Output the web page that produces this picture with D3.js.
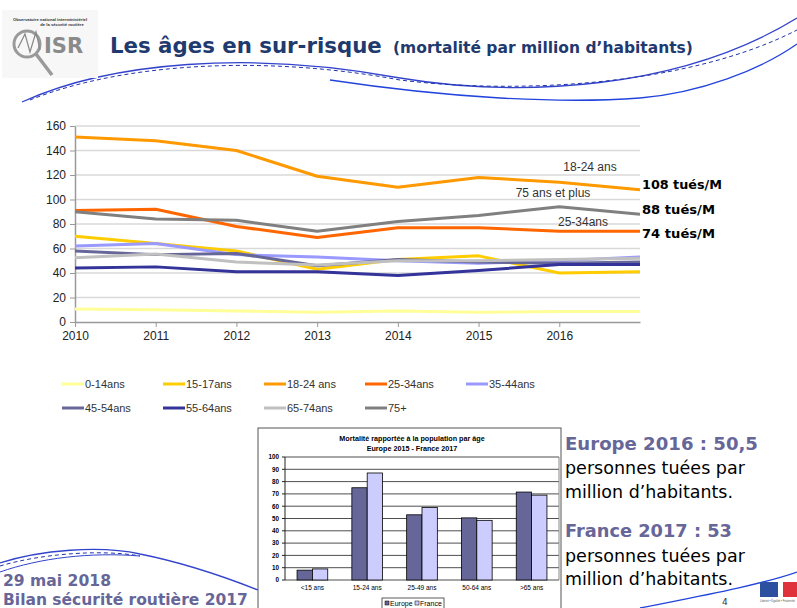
<!DOCTYPE html>
<html><head><meta charset="utf-8">
<script src="https://cdn.jsdelivr.net/npm/d3@7"></script>
<style>body{margin:0;background:#fff;overflow:hidden} svg{display:block}</style>
</head><body>
<svg id="c" width="797" height="608"></svg>
<script>
// ---------- DATA ----------
const years = [2010, 2011, 2012, 2013, 2014, 2015, 2016, 2017];
const tickYears = [2010, 2011, 2012, 2013, 2014, 2015, 2016];
const yTicks = [0, 20, 40, 60, 80, 100, 120, 140, 160];
const seriesNames = ["0-14ans", "15-17ans", "18-24 ans", "25-34ans", "35-44ans", "45-54ans", "55-64ans", "65-74ans", "75+"];
const seriesColors = ["#ffff99", "#ffcc00", "#ff9900", "#ff6600", "#9999ff", "#666699", "#333399", "#c0c0c0", "#808080"];
const v0_14  = [10.6, 10, 9, 8, 9, 8, 8.5, 8.5];
const v15_17 = [70, 64, 58, 43, 51, 54, 40, 41];
const v18_24 = [151, 148, 140, 119, 110, 118, 114, 108];
const v25_34 = [91, 92, 78, 69, 77, 77, 74, 74];
const v35_44 = [62, 64, 55, 53, 50, 48, 50, 53];
const v45_54 = [58, 55, 56, 46, 51, 49, 48, 49];
const v55_64 = [44, 45, 41, 41, 38, 42, 47, 47];
const v65_74 = [52.5, 55.5, 49, 46.5, 50, 50, 51, 52];
const v75p   = [90, 84, 83, 74, 82, 87, 94, 88];
const seriesValues = [v0_14, v15_17, v18_24, v25_34, v35_44, v45_54, v55_64, v65_74, v75p];
const endLabels = [{idx: 2, text: "108 tués/M", dy: -1}, {idx: 8, text: "88 tués/M", dy: 0}, {idx: 3, text: "74 tués/M", dy: 6.5}];

// small bar chart
const barCats = ["<15 ans", "15-24 ans", "25-49 ans", "50-64 ans", ">65 ans"];
const barEurope = [8, 75, 53, 50.5, 71.5];
const barFrance = [9, 87, 59, 48.5, 69];
const barTicks = [0, 10, 20, 30, 40, 50, 60, 70, 80, 90, 100];

// ---------- DRAW ----------
const svg = d3.select("#c");
const NAVY = "#1f3a6e", SLATE = "#666699";

function fit(sel, w) {
  const n = sel.node(); const cur = n.getComputedTextLength();
  const fs = parseFloat(sel.attr("font-size"));
  sel.attr("font-size", (fs * w / cur).toFixed(2));
  return sel;
}

// decorative swooshes
const deco = svg.append("g").attr("fill", "none");
deco.append("path").attr("d", "M22,102 C110,62 250,50 400,78 C520,98 680,90 797,18").attr("stroke", "#3344cc").attr("stroke-width", 1.3);
deco.append("path").attr("d", "M30,100 C120,64 260,54 400,80 C520,95 690,85 797,30").attr("stroke", "#2233aa").attr("stroke-width", 1).attr("stroke-dasharray", "4,3");
deco.append("path").attr("d", "M330,80 C450,98 560,104 640,98 C700,93 760,70 797,44").attr("stroke", "#2244dd").attr("stroke-width", 1.3);
deco.append("path").attr("d", "M0,563 C40,550 100,545 140,554 C180,562 220,575 258,590").attr("stroke", "#3344cc").attr("stroke-width", 1.3);
deco.append("path").attr("d", "M0,566 C40,554 100,549 140,556").attr("stroke", "#2233aa").attr("stroke-width", 1).attr("stroke-dasharray", "4,3");
deco.append("path").attr("d", "M0,572 C40,558 90,552 140,556").attr("stroke", "#3344cc").attr("stroke-width", 1);
deco.append("path").attr("d", "M640,608 C700,596 760,585 797,572").attr("stroke", "#2244dd").attr("stroke-width", 1.3);

// logo
const logo = svg.append("g");
logo.append("rect").attr("x", 2).attr("y", 10).attr("width", 96).attr("height", 68).attr("fill", "#f7f7f7");
logo.append("text").attr("x", 50).attr("y", 21).attr("font-size", 4.2).attr("font-weight", "bold").attr("text-anchor", "middle").attr("font-family", "Liberation Sans").attr("fill", "#333").text("Observatoire national interministériel");
logo.append("text").attr("x", 62).attr("y", 26).attr("font-size", 4.2).attr("font-weight", "bold").attr("text-anchor", "middle").attr("font-family", "Liberation Sans").attr("fill", "#333").text("de la sécurité routière");
logo.append("circle").attr("cx", 27).attr("cy", 44).attr("r", 13).attr("fill", "none").attr("stroke", "#9a9a9a").attr("stroke-width", 3);
logo.append("line").attr("x1", 36).attr("y1", 54).attr("x2", 52).attr("y2", 75).attr("stroke", "#9a9a9a").attr("stroke-width", 3.5);
logo.append("path").attr("d", "M18,48 L25,34 L30,52 L36,32 L40,50").attr("fill", "none").attr("stroke", "#888").attr("stroke-width", 1.2);
logo.append("text").attr("x", 44).attr("y", 53).attr("font-size", 21).attr("font-weight", "bold").attr("font-family", "DejaVu Sans").attr("fill", "#8a8a8a").text("ISR");

// title
fit(svg.append("text").attr("x", 110).attr("y", 53).attr("font-family", "DejaVu Sans").attr("font-weight", "bold").attr("font-size", 22).attr("fill", NAVY).text("Les âges en sur-risque"), 272);
fit(svg.append("text").attr("x", 393).attr("y", 53).attr("font-family", "DejaVu Sans").attr("font-weight", "bold").attr("font-size", 16).attr("fill", NAVY).text("(mortalité par million d’habitants)"), 300);

// ---------- main line chart ----------
const x = d3.scalePoint().domain(years).range([75, 640]);
const y = d3.scaleLinear().domain([0, 160]).range([322, 126]);
const g = svg.append("g").attr("font-family", "Liberation Sans");

g.append("g").selectAll("line").data(yTicks.filter(d => d > 0)).join("line")
  .attr("x1", 75).attr("x2", 640).attr("y1", d => y(d)).attr("y2", d => y(d))
  .attr("stroke", "#d9d9d9").attr("stroke-width", 1.5);

const xAxis = g.append("g").attr("transform", `translate(0,${y(0)})`)
  .call(d3.axisBottom(x).tickValues(tickYears).tickSize(5).tickSizeOuter(0).tickPadding(4));
xAxis.select(".domain").attr("stroke", "#999").attr("stroke-width", 1.5);
xAxis.selectAll(".tick line").attr("stroke", "#999");
xAxis.selectAll("text").attr("font-size", 12).attr("fill", "#222").attr("font-family", "Liberation Sans");

const yAxis = g.append("g").attr("transform", `translate(75,0)`)
  .call(d3.axisLeft(y).tickValues(yTicks).tickSize(5).tickSizeOuter(0).tickPadding(4));
yAxis.select(".domain").attr("stroke", "#999").attr("stroke-width", 1.5);
yAxis.selectAll(".tick line").attr("stroke", "#999");
yAxis.selectAll("text").attr("font-size", 12).attr("fill", "#222").attr("font-family", "Liberation Sans");

const line = d3.line().x((d, i) => x(years[i])).y(d => y(d));
g.append("g").selectAll("path").data(seriesValues).join("path")
  .attr("d", line).attr("fill", "none").attr("stroke", (d, i) => seriesColors[i])
  .attr("stroke-width", 3).attr("stroke-linejoin", "round");

// in-chart labels
g.append("text").attr("x", 590).attr("y", 171).attr("text-anchor", "middle").attr("font-size", 12).attr("fill", "#333").text("18-24 ans");
g.append("text").attr("x", 553).attr("y", 197).attr("text-anchor", "middle").attr("font-size", 12).attr("fill", "#333").text("75 ans et plus");
g.append("text").attr("x", 583).attr("y", 226).attr("text-anchor", "middle").attr("font-size", 12).attr("fill", "#333").text("25-34ans");

endLabels.forEach(l => {
  const v = seriesValues[l.idx][years.length - 1];
  const t = svg.append("text").attr("x", x(2017) + 2).attr("y", y(v) + l.dy)
    .attr("font-family", "DejaVu Sans").attr("font-weight", "bold").attr("font-size", 14).attr("fill", "#000").text(l.text);
  fit(t, l.text.length === 10 ? 80 : 73);
});

// legend
const leg = svg.append("g").attr("font-family", "Liberation Sans").attr("font-size", 11).attr("fill", "#333");
seriesNames.forEach((n, i) => {
  const col = i % 5, row = Math.floor(i / 5);
  const lx = 62 + col * 101, ly = 384 + row * 24;
  leg.append("line").attr("x1", lx).attr("x2", lx + 22).attr("y1", ly).attr("y2", ly)
    .attr("stroke", seriesColors[i]).attr("stroke-width", 3);
  leg.append("text").attr("x", lx + 23).attr("y", ly + 4).text(n);
});

// ---------- small bar chart ----------
const b = svg.append("g").attr("font-family", "Liberation Sans");
b.append("rect").attr("x", 258).attr("y", 428).attr("width", 303).attr("height", 190).attr("fill", "#fff").attr("stroke", "#555").attr("stroke-width", 1);
b.append("text").attr("x", 412).attr("y", 441).attr("text-anchor", "middle").attr("font-size", 7.2).attr("font-weight", "bold").text("Mortalité rapportée à la population par âge");
b.append("text").attr("x", 412).attr("y", 451).attr("text-anchor", "middle").attr("font-size", 7.2).attr("font-weight", "bold").text("Europe 2015 - France 2017");
const bx = d3.scaleBand().domain(barCats).range([285, 559]).padding(0);
const by = d3.scaleLinear().domain([0, 100]).range([580, 457]);
b.append("g").selectAll("line").data(barTicks).join("line")
  .attr("x1", 285).attr("x2", 559).attr("y1", d => by(d)).attr("y2", d => by(d)).attr("stroke", "#222").attr("stroke-width", 0.8);
b.append("line").attr("x1", 285).attr("x2", 285).attr("y1", by(100)).attr("y2", by(0)).attr("stroke", "#222");
b.append("line").attr("x1", 559).attr("x2", 559).attr("y1", by(100)).attr("y2", by(0)).attr("stroke", "#888");
b.append("g").selectAll("line").data(barTicks).join("line")
  .attr("x1", 282).attr("x2", 285).attr("y1", d => by(d)).attr("y2", d => by(d)).attr("stroke", "#222");
b.append("g").selectAll("text").data(barTicks).join("text")
  .attr("x", 279).attr("y", d => by(d) + 2.3).attr("text-anchor", "end").attr("font-size", 6.3).attr("font-weight", "bold").text(d => d);
const bw = bx.bandwidth() * 0.28;
b.append("g").selectAll("rect").data(barCats).join("rect")
  .attr("x", d => bx(d) + bx.bandwidth() / 2 - bw).attr("width", bw)
  .attr("y", (d, i) => by(barEurope[i])).attr("height", (d, i) => by(0) - by(barEurope[i]))
  .attr("fill", "#666699").attr("stroke", "#000").attr("stroke-width", 0.8);
b.append("g").selectAll("rect").data(barCats).join("rect")
  .attr("x", d => bx(d) + bx.bandwidth() / 2).attr("width", bw)
  .attr("y", (d, i) => by(barFrance[i])).attr("height", (d, i) => by(0) - by(barFrance[i]))
  .attr("fill", "#ccccff").attr("stroke", "#000").attr("stroke-width", 0.8);
b.append("g").selectAll("text").data(barCats).join("text")
  .attr("x", d => bx(d) + bx.bandwidth() / 2).attr("y", 590).attr("text-anchor", "middle")
  .attr("font-size", 6.5).text(d => d);
b.append("rect").attr("x", 382).attr("y", 598).attr("width", 62).attr("height", 11).attr("fill", "#fff").attr("stroke", "#333").attr("stroke-width", 0.8);
b.append("rect").attr("x", 385).attr("y", 601).attr("width", 4).attr("height", 4).attr("fill", "#666699").attr("stroke", "#000").attr("stroke-width", 0.5);
b.append("text").attr("x", 390).attr("y", 605.5).attr("font-size", 7).text("Europe");
b.append("rect").attr("x", 415).attr("y", 601).attr("width", 4).attr("height", 4).attr("fill", "#ccccff").attr("stroke", "#000").attr("stroke-width", 0.5);
b.append("text").attr("x", 420).attr("y", 605.5).attr("font-size", 7).text("France");

// ---------- right text ----------
const rt = svg.append("g").attr("font-family", "DejaVu Sans");
fit(rt.append("text").attr("x", 565).attr("y", 450).attr("font-size", 20).attr("font-weight", "bold").attr("fill", SLATE).text("Europe 2016 : 50,5"), 193);
fit(rt.append("text").attr("x", 565).attr("y", 474).attr("font-size", 20).attr("fill", "#000").text("personnes tuées par"), 180);
fit(rt.append("text").attr("x", 565).attr("y", 498).attr("font-size", 20).attr("fill", "#000").text("million d’habitants."), 168);
fit(rt.append("text").attr("x", 565).attr("y", 537).attr("font-size", 20).attr("font-weight", "bold").attr("fill", SLATE).text("France 2017 : 53"), 167);
fit(rt.append("text").attr("x", 565).attr("y", 562).attr("font-size", 20).attr("fill", "#000").text("personnes tuées par"), 180);
fit(rt.append("text").attr("x", 565).attr("y", 585).attr("font-size", 20).attr("fill", "#000").text("million d’habitants."), 168);

// bottom-left
fit(svg.append("text").attr("x", 3).attr("y", 586).attr("font-family", "DejaVu Sans").attr("font-weight", "bold").attr("font-size", 17).attr("fill", SLATE).text("29 mai 2018"), 108);
fit(svg.append("text").attr("x", 3).attr("y", 605).attr("font-family", "DejaVu Sans").attr("font-weight", "bold").attr("font-size", 17).attr("fill", SLATE).text("Bilan sécurité routière 2017"), 245);

// page number & flag logo
svg.append("text").attr("x", 722).attr("y", 605).attr("font-family", "DejaVu Sans").attr("font-size", 9).attr("fill", "#333").text("4");
svg.append("rect").attr("x", 760).attr("y", 582).attr("width", 18).attr("height", 15).attr("fill", "#2d4fa0");
svg.append("rect").attr("x", 783).attr("y", 582).attr("width", 14).attr("height", 15).attr("fill", "#e0323c");
fit(svg.append("text").attr("x", 760).attr("y", 602).attr("font-family", "Liberation Sans").attr("font-size", 3.3).attr("fill", "#555").text("Liberté • Égalité • Fraternité"), 35);
</script>
</body></html>
